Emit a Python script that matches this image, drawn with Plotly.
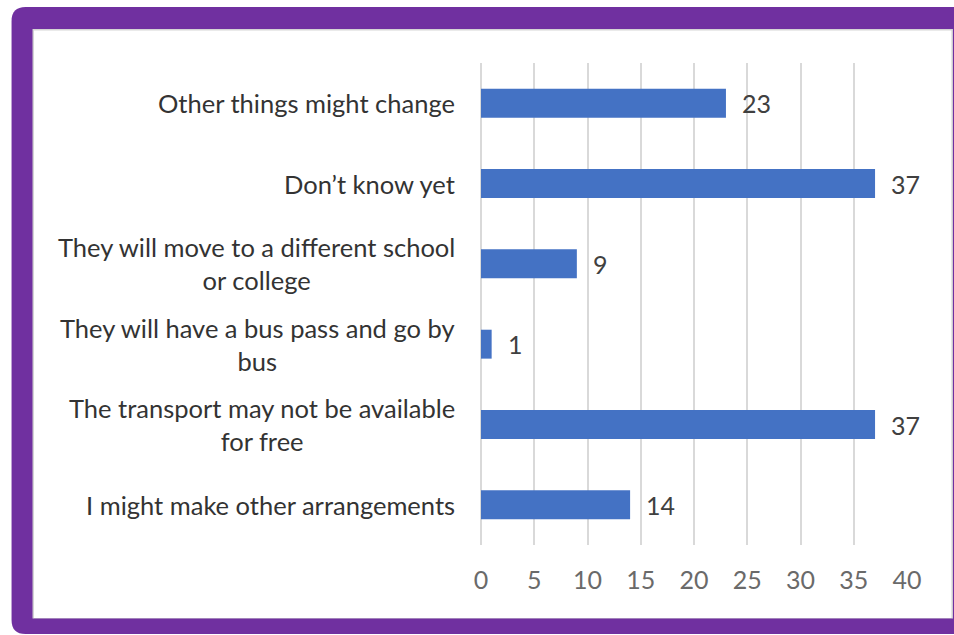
import plotly.graph_objects as go

# ---- data ----
categories = [
    "Other things might change",
    "Don’t know yet",
    "They will move to a different school or college",
    "They will have a bus pass and go by bus",
    "The transport may not be available for free",
    "I might make other arrangements",
]
display_labels = [
    "Other things might change",
    "Don’t know yet",
    "They will move to a different school<br>or college",
    "They will have a bus pass and go by<br>bus",
    "The transport may not be available<br>for free",
    "I might make other arrangements",
]
values = [23, 37, 9, 1, 37, 14]
x_ticks = [0, 5, 10, 15, 20, 25, 30, 35, 40]

# ---- geometry ----
W, H = 954, 635
ML, MR, MT, MB = 481, 46.5, 63, 90
PW = W - ML - MR
PH = H - MT - MB


def px(x):
    return (x - ML) / PW


def py(y):
    return (H - MB - y) / PH


def rounded_rect(x0, y0, x1, y1, r):
    rx = r / PW
    ry = r / PH
    a, b, c, d = px(x0), py(y0), px(x1), py(y1)  # b top (higher), d bottom
    return (
        f"M {a + rx},{b} L {c - rx},{b} Q {c},{b} {c},{b - ry} "
        f"L {c},{d + ry} Q {c},{d} {c - rx},{d} "
        f"L {a + rx},{d} Q {a},{d} {a},{d + ry} "
        f"L {a},{b - ry} Q {a},{b} {a + rx},{b} Z"
    )


FONT = "Lato"
fig = go.Figure()
fig.add_trace(
    go.Bar(
        x=values,
        y=categories,
        orientation="h",
        marker=dict(color="#4472C4", line=dict(width=0)),
        width=0.36,
        hoverinfo="x+y",
    )
)

shapes = [
    dict(type="path", xref="paper", yref="paper", layer="below",
         path=rounded_rect(11, 7, 975, 634, 14),
         fillcolor="#7030A0", line=dict(width=0)),
    dict(type="rect", xref="paper", yref="paper", layer="below",
         x0=px(32), x1=px(953.5), y0=py(618.5), y1=py(29),
         fillcolor="#d4d4d4", line=dict(width=0)),
    dict(type="rect", xref="paper", yref="paper", layer="below",
         x0=px(33.5), x1=px(952), y0=py(618), y1=py(30.5),
         fillcolor="#ffffff", line=dict(width=0)),
]

annotations = []
for cat, lab in zip(categories, display_labels):
    annotations.append(dict(
        xref="paper", yref="y", x=0, y=cat, xshift=-24,
        xanchor="right", yanchor="middle", align="center",
        text=lab, showarrow=False,
        font=dict(family=FONT, size=25.5, color="#333333"),
    ))
for cat, v in zip(categories, values):
    annotations.append(dict(
        xref="x", yref="y", x=v, y=cat, xshift=14,
        xanchor="left", yanchor="middle",
        text=str(v), showarrow=False,
        font=dict(family=FONT, size=25, color="#404040"),
    ))

fig.update_layout(
    width=W, height=H,
    margin=dict(l=ML, r=MR, t=MT, b=MB, pad=0),
    paper_bgcolor="#ffffff",
    plot_bgcolor="rgba(0,0,0,0)",
    showlegend=False,
    shapes=shapes,
    annotations=annotations,
    xaxis=dict(
        range=[0, 40], tickvals=x_ticks, ticktext=[str(t) for t in x_ticks],
        showgrid=True, gridcolor="#d9d9d9", gridwidth=2,
        zeroline=True, zerolinecolor="#d9d9d9", zerolinewidth=2,
        showline=False, ticks="", ticklabelstandoff=18,
        tickfont=dict(family=FONT, size=25, color="#6a6a6a"),
        fixedrange=True,
    ),
    yaxis=dict(
        categoryorder="array", categoryarray=categories,
        autorange="reversed", showticklabels=False,
        showgrid=False, zeroline=False, ticks="", fixedrange=True,
    ),
)

fig.write_html(
    "out.html",
    config={"displayModeBar": False},
    post_script="document.body.style.margin='0';document.body.style.overflow='hidden';",
)
